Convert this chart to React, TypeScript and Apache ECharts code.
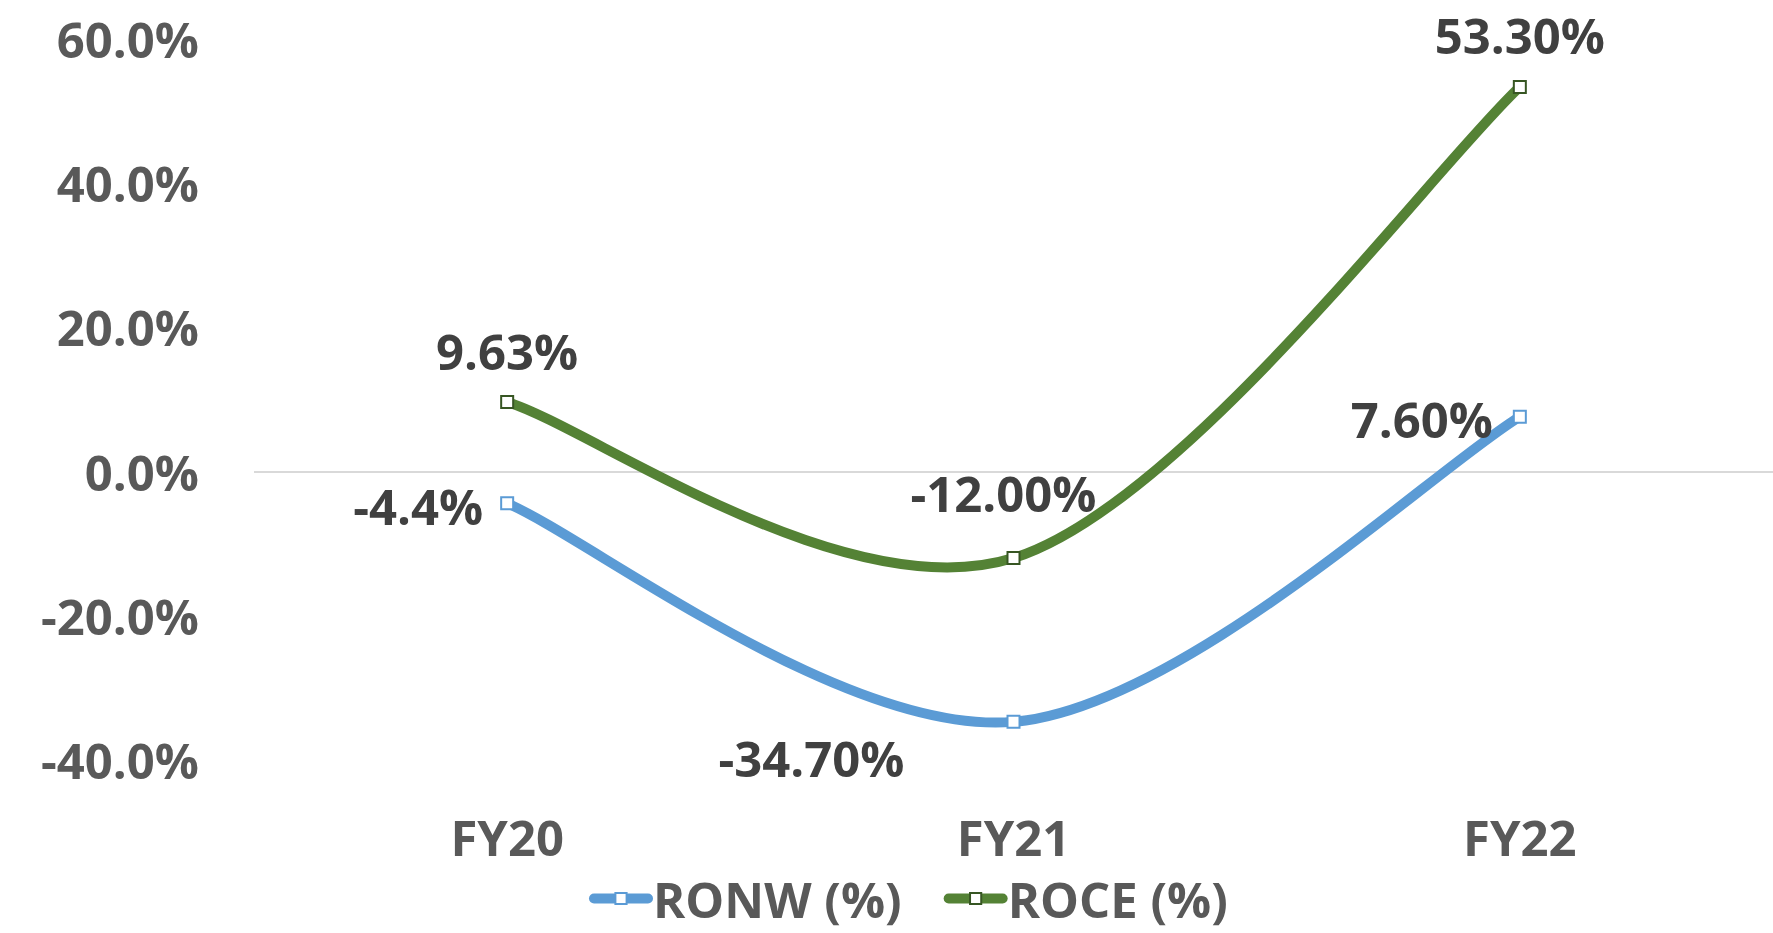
import React, { useEffect, useRef } from "react";
import * as echarts from "echarts";

const categories = ["FY20", "FY21", "FY22"];
const ronwValues = [-4.4, -34.7, 7.6];
const roceValues = [9.63, -12.0, 53.3];
const ronwLabels = ["-4.4%", "-34.70%", "7.60%"];
const roceLabels = ["9.63%", "-12.00%", "53.30%"];
const yTicks = { min: -40, max: 60, interval: 20 };

const FONT = "'Open Sans', 'Noto Sans', sans-serif";
const BLUE = "#5B9BD5";
const GREEN = "#548235";
const LINE_W = 10;

function smoothPath(pts: number[][]): string {
  let d = `M${pts[0][0]},${pts[0][1]}`;
  for (let i = 0; i < pts.length - 1; i++) {
    const p0 = pts[i - 1] || pts[i];
    const p1 = pts[i];
    const p2 = pts[i + 1];
    const p3 = pts[i + 2] || p2;
    const c1 = [p1[0] + (p2[0] - p0[0]) / 6, p1[1] + (p2[1] - p0[1]) / 6];
    const c2 = [p2[0] - (p3[0] - p1[0]) / 6, p2[1] - (p3[1] - p1[1]) / 6];
    d += ` C${c1[0]},${c1[1]} ${c2[0]},${c2[1]} ${p2[0]},${p2[1]}`;
  }
  return d;
}

function curveSeries(values: number[], color: string, z: number) {
  return {
    type: "custom",
    silent: true,
    z,
    data: values.map((v, i) => [i, v]),
    encode: { x: 0, y: 1 },
    renderItem: (params: any, api: any) => {
      if (params.dataIndex !== 0) return null;
      const pts = values.map((v, i) => api.coord([i, v]));
      return {
        type: "path",
        shape: { pathData: smoothPath(pts) },
        style: { stroke: color, lineWidth: LINE_W, fill: "none", lineCap: "round", lineJoin: "round" },
      };
    },
  };
}

export default function App() {
  const ref = useRef<HTMLDivElement>(null);
  useEffect(() => {
    document.body.style.margin = "0";
    const chart = echarts.init(ref.current!, null, { renderer: "svg" });
    const labelStyle = {
      show: true,
      fontFamily: FONT,
      fontWeight: "bold",
      fontSize: 49,
      color: "#404040",
    };
    chart.setOption({
      animation: false,
      backgroundColor: "#ffffff",
      grid: { left: 254, right: 0, top: 38.6, bottom: 933 - 760.1 },
      legend: {
        top: 869,
        left: 584,
        itemWidth: 54,
        itemHeight: 14,
        itemGap: 42,
        textStyle: { fontFamily: FONT, fontWeight: "bold", fontSize: 49, color: "#595959" },
        data: [
          { name: "RONW (%)", lineStyle: { color: BLUE, width: LINE_W, opacity: 1, cap: "round" } },
          { name: "ROCE (%)", lineStyle: { color: GREEN, width: LINE_W, opacity: 1, cap: "round" } },
        ],
      },
      xAxis: {
        type: "category",
        data: categories,
        boundaryGap: true,
        axisLine: { show: false },
        axisTick: { show: false },
        axisLabel: {
          margin: 52,
          fontFamily: FONT,
          fontWeight: "bold",
          fontSize: 49,
          color: "#595959",
        },
      },
      yAxis: {
        type: "value",
        min: yTicks.min,
        max: yTicks.max,
        interval: yTicks.interval,
        axisLine: { show: false },
        axisTick: { show: false },
        splitLine: { show: false },
        axisLabel: {
          margin: 55,
          fontFamily: FONT,
          fontWeight: "bold",
          fontSize: 49,
          color: "#595959",
          formatter: (v: number) => v.toFixed(1) + "%",
        },
      },
      series: [
        curveSeries(ronwValues, BLUE, 2),
        curveSeries(roceValues, GREEN, 3),
        {
          name: "RONW (%)",
          type: "line",
          data: ronwValues.map((v, i) => {
            const lbl: any = { ...labelStyle, formatter: ronwLabels[i] };
            if (i === 0) Object.assign(lbl, { position: "left", distance: 17, offset: [0, 3] });
            if (i === 1) Object.assign(lbl, { position: "bottom", distance: 5, offset: [-202, 0] });
            if (i === 2) Object.assign(lbl, { position: "left", distance: 20, offset: [0, 2] });
            return { value: v, label: lbl };
          }),
          symbol: "rect",
          symbolSize: 12,
          lineStyle: { color: BLUE, width: LINE_W, opacity: 0 },
          itemStyle: { color: "#ffffff", borderColor: BLUE, borderWidth: 2 },
          z: 4,
          markLine: {
            silent: true,
            symbol: "none",
            label: { show: false },
            lineStyle: { color: "#D9D9D9", width: 2, type: "solid" },
            data: [{ yAxis: 0 }],
            z: 1,
          },
        },
        {
          name: "ROCE (%)",
          type: "line",
          data: roceValues.map((v, i) => {
            const lbl: any = { ...labelStyle, formatter: roceLabels[i], position: "top", distance: 20 };
            if (i === 1) Object.assign(lbl, { distance: 34, offset: [-10, 0] });
            return { value: v, label: lbl };
          }),
          symbol: "rect",
          symbolSize: 12,
          lineStyle: { color: GREEN, width: LINE_W, opacity: 0 },
          itemStyle: { color: "#ffffff", borderColor: "#375623", borderWidth: 2 },
          z: 5,
        },
      ],
    });
    return () => chart.dispose();
  }, []);
  return <div ref={ref} style={{ width: 1773, height: 933 }} />;
}
